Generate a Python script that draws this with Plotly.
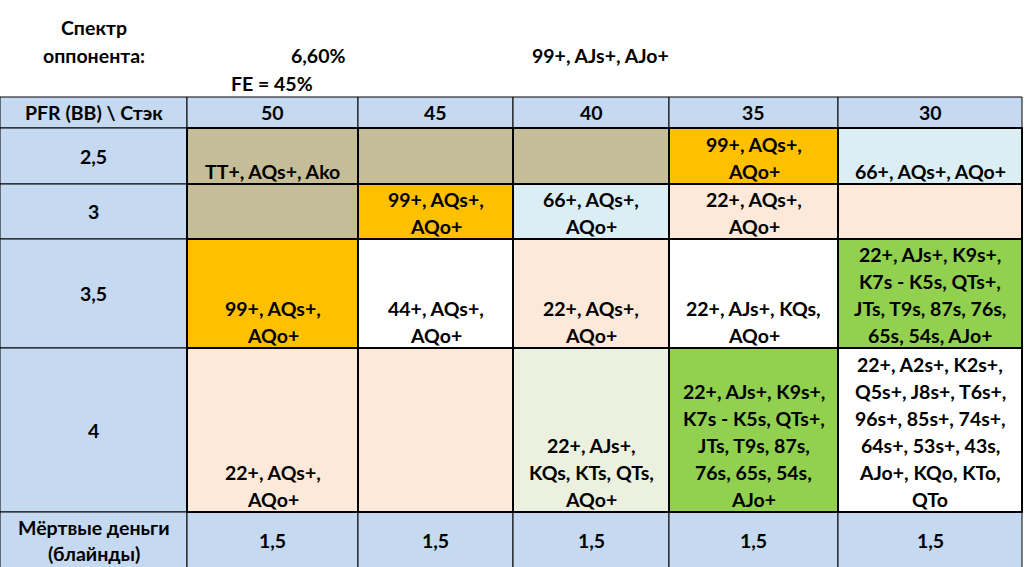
import plotly.graph_objects as go

# --- data -------------------------------------------------------------
stacks = ["50", "45", "40", "35", "30"]
pfr_sizes = ["2,5", "3", "3,5", "4"]
dead_money = ["1,5", "1,5", "1,5", "1,5", "1,5"]

opp_range_pct = "6,60%"
opp_range = "99+, AJs+, AJo+"
fold_equity = "FE = 45%"

push_ranges = [
    ["TT+, AQs+, Ako", "", "", "99+, AQs+,\nAQo+", "66+, AQs+, AQo+"],
    ["", "99+, AQs+,\nAQo+", "66+, AQs+,\nAQo+", "22+, AQs+,\nAQo+", ""],
    ["99+, AQs+,\nAQo+", "44+, AQs+,\nAQo+", "22+, AQs+,\nAQo+",
     "22+, AJs+, KQs,\nAQo+",
     "22+, AJs+, K9s+,\nK7s - K5s, QTs+,\nJTs, T9s, 87s, 76s,\n65s, 54s, AJo+"],
    ["22+, AQs+,\nAQo+", "", "22+, AJs+,\nKQs, KTs, QTs,\nAQo+",
     "22+, AJs+, K9s+,\nK7s - K5s, QTs+,\nJTs, T9s, 87s,\n76s, 65s, 54s,\nAJo+",
     "22+, A2s+, K2s+,\nQ5s+, J8s+, T6s+,\n96s+, 85s+, 74s+,\n64s+, 53s+, 43s,\nAJo+, KQo, KTo,\nQTo"],
]

cell_fill = [
    ["tan", "tan", "tan", "orange", "sky"],
    ["tan", "orange", "sky", "peach", "peach"],
    ["orange", "white", "peach", "white", "green"],
    ["peach", "peach", "mint", "green", "white"],
]

palette = {
    "tan": "#C4BD97",
    "orange": "#FFC000",
    "sky": "#DAEEF3",
    "peach": "#FDE9D9",
    "white": "#FFFFFF",
    "mint": "#EBF1DE",
    "green": "#92D050",
}
header_blue = "#C5D9F1"

# --- grid geometry (spreadsheet columns / rows) ------------------------
col_edges = [0, 187, 358, 513, 669, 838, 1022]
row_edges = [97, 128, 184, 239, 348, 512, 580]

FONT = dict(family="Lato, 'Open Sans', sans-serif", size=19.5, color="black")
LINE_H = 27

fig = go.Figure()
shapes = []
annotations = []


def rect(x0, x1, y0, y1, fill, width=1):
    shapes.append(dict(type="rect", xref="x", yref="y", x0=x0, x1=x1, y0=y0, y1=y1,
                       fillcolor=fill, line=dict(color="black", width=width), layer="below"))


def text(x, y, s, xanchor="center"):
    annotations.append(dict(x=x, y=y, xref="x", yref="y", text="<b>%s</b>" % s,
                            showarrow=False, xanchor=xanchor, yanchor="middle", font=FONT))


def lines_bottom(xc, ybottom, s):
    parts = s.split("\n")
    for i, p in enumerate(parts):
        y = ybottom - 13 - (len(parts) - 1 - i) * LINE_H
        text(xc, y, p)


def lines_center(xc, ymid, s):
    parts = s.split("\n")
    for i, p in enumerate(parts):
        y = ymid + (i - (len(parts) - 1) / 2) * LINE_H
        text(xc, y, p)


# header row
rect(col_edges[0], col_edges[1], row_edges[0], row_edges[1], header_blue)
lines_center((col_edges[0] + col_edges[1]) / 2, (row_edges[0] + row_edges[1]) / 2, "PFR (BB) \\ Стэк")
for j, s in enumerate(stacks):
    x0, x1 = col_edges[j + 1], col_edges[j + 2]
    rect(x0, x1, row_edges[0], row_edges[1], header_blue)
    lines_center((x0 + x1) / 2, (row_edges[0] + row_edges[1]) / 2, s)

# row labels
for i, p in enumerate(pfr_sizes):
    y0, y1 = row_edges[i + 1], row_edges[i + 2]
    rect(col_edges[0], col_edges[1], y0, y1, header_blue)
    lines_center((col_edges[0] + col_edges[1]) / 2, (y0 + y1) / 2, p)

# dead money row
y0, y1 = row_edges[5], row_edges[6]
rect(col_edges[0], col_edges[1], y0, y1, header_blue)
text((col_edges[0] + col_edges[1]) / 2, 527, "Мёртвые деньги")
text((col_edges[0] + col_edges[1]) / 2, 553, "(блайнды)")
for j, s in enumerate(dead_money):
    x0, x1 = col_edges[j + 1], col_edges[j + 2]
    rect(x0, x1, y0, y1, header_blue)
    text((x0 + x1) / 2, 540, s)

# push ranges
for i in range(len(pfr_sizes)):
    for j in range(len(stacks)):
        x0, x1 = col_edges[j + 1], col_edges[j + 2]
        ya, yb = row_edges[i + 1], row_edges[i + 2]
        rect(x0, x1, ya, yb, palette[cell_fill[i][j]], width=2)
        if push_ranges[i][j]:
            lines_bottom((x0 + x1) / 2, yb, push_ranges[i][j])

# captions above the table
text(94, 27, "Спектр")
text(94, 55, "оппонента:")
text(347, 55, opp_range_pct, xanchor="right")
text(530, 55, opp_range, xanchor="left")
text(272, 83, fold_equity)

fig.update_layout(
    width=1026, height=567,
    margin=dict(l=0, r=0, t=0, b=0),
    paper_bgcolor="white", plot_bgcolor="white",
    xaxis=dict(range=[0, 1026], visible=False, fixedrange=True),
    yaxis=dict(range=[567, 0], visible=False, fixedrange=True),
    shapes=shapes, annotations=annotations,
    showlegend=False,
)

# page body has a default 8px margin; drop it so the table fills the window
fig.write_html("out.html", config={"displayModeBar": False},
               post_script="document.body.style.margin='0';")
